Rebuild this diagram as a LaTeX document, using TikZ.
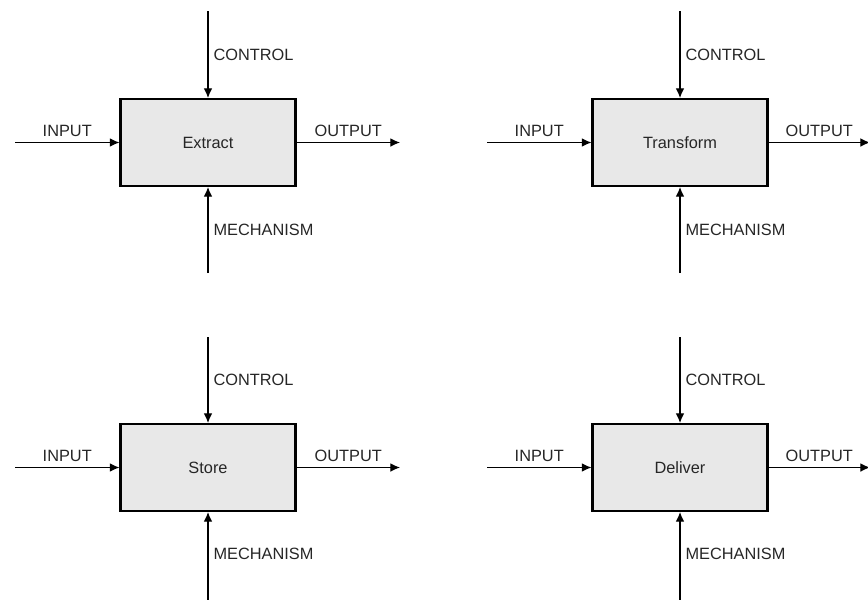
\documentclass[tikz,border=0pt]{standalone}
\usepackage{fontspec}
\setmainfont{Liberation Sans}
\usetikzlibrary{arrows.meta}
\definecolor{boxgray}{HTML}{E8E8E8}
\definecolor{textgray}{HTML}{262626}
\begin{document}
\begin{tikzpicture}[
  x=0.02cm,
  y=-0.02cm,
  font=\fontsize{9.3}{11}\selectfont,
  activity/.style={draw=black, line width=1.2pt, fill=boxgray, text=textgray,
    minimum width=3.50cm, minimum height=1.74cm, inner sep=0pt},
  flow/.style={black, line width=0.7pt, -{Latex[length=5.5pt,width=5pt]}},
  lbl/.style={text=textgray, inner sep=2.8pt},
]
  \useasboundingbox (0,0) rectangle (868,599);

  % Extract
  \node[activity] (extract) at (208,142.5) {Extract};
  \coordinate (extract-in) at (15,142.5);
  \coordinate (extract-out) at (400,142.5);
  \coordinate (extract-ctl) at (208,11);
  \coordinate (extract-mech) at (208,273);
  \draw[flow] (extract-in) -- node[lbl, above] (extract-inlbl) {INPUT} (extract.west);
  \draw[flow] (extract.east) -- node[lbl, above] (extract-outlbl) {OUTPUT} (extract-out);
  \draw[flow] (extract-ctl) -- node[lbl, right] (extract-ctllbl) {CONTROL} (extract.north);
  \draw[flow] (extract-mech) -- node[lbl, right] (extract-mechlbl) {MECHANISM} (extract.south);

  % Transform
  \node[activity] (transform) at (680,142.5) {Transform};
  \coordinate (transform-in) at (487,142.5);
  \coordinate (transform-out) at (870,142.5);
  \coordinate (transform-ctl) at (680,11);
  \coordinate (transform-mech) at (680,273);
  \draw[flow] (transform-in) -- node[lbl, above] (transform-inlbl) {INPUT} (transform.west);
  \draw[flow] (transform.east) -- node[lbl, above] (transform-outlbl) {OUTPUT} (transform-out);
  \draw[flow] (transform-ctl) -- node[lbl, right] (transform-ctllbl) {CONTROL} (transform.north);
  \draw[flow] (transform-mech) -- node[lbl, right] (transform-mechlbl) {MECHANISM} (transform.south);

  % Store
  \node[activity] (store) at (208,467.5) {Store};
  \coordinate (store-in) at (15,467.5);
  \coordinate (store-out) at (400,467.5);
  \coordinate (store-ctl) at (208,337);
  \coordinate (store-mech) at (208,600);
  \draw[flow] (store-in) -- node[lbl, above] (store-inlbl) {INPUT} (store.west);
  \draw[flow] (store.east) -- node[lbl, above] (store-outlbl) {OUTPUT} (store-out);
  \draw[flow] (store-ctl) -- node[lbl, right] (store-ctllbl) {CONTROL} (store.north);
  \draw[flow] (store-mech) -- node[lbl, right, pos=0.52] (store-mechlbl) {MECHANISM} (store.south);

  % Deliver
  \node[activity] (deliver) at (680,467.5) {Deliver};
  \coordinate (deliver-in) at (487,467.5);
  \coordinate (deliver-out) at (870,467.5);
  \coordinate (deliver-ctl) at (680,337);
  \coordinate (deliver-mech) at (680,600);
  \draw[flow] (deliver-in) -- node[lbl, above] (deliver-inlbl) {INPUT} (deliver.west);
  \draw[flow] (deliver.east) -- node[lbl, above] (deliver-outlbl) {OUTPUT} (deliver-out);
  \draw[flow] (deliver-ctl) -- node[lbl, right] (deliver-ctllbl) {CONTROL} (deliver.north);
  \draw[flow] (deliver-mech) -- node[lbl, right, pos=0.52] (deliver-mechlbl) {MECHANISM} (deliver.south);
\end{tikzpicture}
\end{document}
